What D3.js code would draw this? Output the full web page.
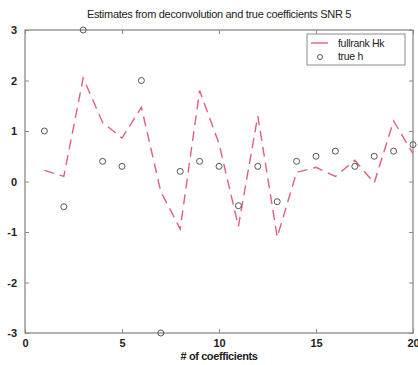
<!DOCTYPE html>
<html><head><meta charset="utf-8">
<script src="https://cdn.jsdelivr.net/npm/d3@7"></script>
<style>
body{margin:0;background:#fff;}
svg{display:block;font-family:Arial,"Liberation Sans",sans-serif;}
</style></head>
<body><svg id="c" width="418" height="365"></svg>
<script>
const xIdx = [1,2,3,4,5,6,7,8,9,10,11,12,13,14,15,16,17,18,19,20];
const hkValues = [0.22,0.1,2.05,1.17,0.86,1.47,-0.2,-0.94,1.8,0.75,-0.89,1.3,-1.1,0.18,0.28,0.1,0.42,-0.03,1.2,0.55];
const trueH = [1,-0.5,3,0.4,0.3,2,-3,0.2,0.4,0.3,-0.48,0.3,-0.4,0.4,0.5,0.6,0.3,0.5,0.6,0.73];
const xTicks = [0,5,10,15,20];
const yTicks = [-3,-2,-1,0,1,2,3];
const titleText = "Estimates from deconvolution and true coefficients SNR 5";
const xLabel = "# of coefficients";
const legendLabels = ["fullrank Hk","true h"];

const svg = d3.select("#c");
const L=25,R=413,T=30,B=333;
const x = d3.scaleLinear().domain([0,20]).range([L,R]);
const y = d3.scaleLinear().domain([-3,3]).range([B,T]);
const frame="#8a8a8a", txt="#222";
const fmt = d => String(d);

// frame
svg.append("rect").attr("x",L).attr("y",T).attr("width",R-L).attr("height",B-T)
  .attr("fill","none").attr("stroke",frame).attr("stroke-width",1.3);

// axes
const ax = svg.append("g").attr("transform",`translate(0,${B})`)
  .call(d3.axisBottom(x).tickValues(xTicks).tickFormat(fmt).tickSizeInner(-4).tickSizeOuter(0).tickPadding(6));
const axT = svg.append("g").attr("transform",`translate(0,${T})`)
  .call(d3.axisTop(x).tickValues(xTicks).tickSizeInner(-4).tickSizeOuter(0).tickFormat(""));
const ay = svg.append("g").attr("transform",`translate(${L},0)`)
  .call(d3.axisLeft(y).tickValues(yTicks).tickFormat(fmt).tickSizeInner(-4).tickSizeOuter(0).tickPadding(8));
const ayR = svg.append("g").attr("transform",`translate(${R},0)`)
  .call(d3.axisRight(y).tickValues(yTicks).tickSizeInner(-4).tickSizeOuter(0).tickFormat(""));
[ax,axT,ay,ayR].forEach(g=>{
  g.select(".domain").remove();
  g.selectAll("line").attr("stroke",frame);
  g.selectAll("text").attr("fill",txt).attr("font-size",11).attr("font-weight","bold");
});

// line
const line = d3.line().x((d,i)=>x(xIdx[i])).y(d=>y(d));
svg.append("path").datum(hkValues).attr("d",line).attr("fill","none")
  .attr("stroke","#e0607a").attr("stroke-width",1.4).attr("stroke-dasharray","10,6");

// circles
svg.append("g").selectAll("circle").data(trueH).join("circle")
  .attr("cx",(d,i)=>x(xIdx[i])).attr("cy",d=>y(d)).attr("r",3)
  .attr("fill","none").attr("stroke","#555").attr("stroke-width",1);

// title and labels
svg.append("text").attr("x",(L+R)/2).attr("y",18).attr("text-anchor","middle")
  .attr("font-size",11).attr("fill",txt).attr("letter-spacing","-0.3").text(titleText);
svg.append("text").attr("x",(L+R)/2).attr("y",360).attr("text-anchor","middle")
  .attr("font-size",11).attr("font-weight","bold").attr("fill",txt).attr("letter-spacing","-0.4").text(xLabel);

// legend
const lg = svg.append("g");
lg.append("rect").attr("x",307).attr("y",34).attr("width",98).attr("height",31)
  .attr("fill","#fff").attr("stroke",frame).attr("stroke-width",1);
lg.append("line").attr("x1",311).attr("x2",328).attr("y1",43).attr("y2",43)
  .attr("stroke","#e0607a").attr("stroke-width",1.4);
lg.append("circle").attr("cx",320).attr("cy",57).attr("r",2.5)
  .attr("fill","none").attr("stroke","#555");
lg.selectAll("text.l").data(legendLabels).join("text").attr("class","l")
  .attr("x",338).attr("y",(d,i)=>47+i*13).attr("font-size",10.5).attr("fill",txt)
  .attr("letter-spacing","-0.3").text(d=>d);
</script></body></html>
